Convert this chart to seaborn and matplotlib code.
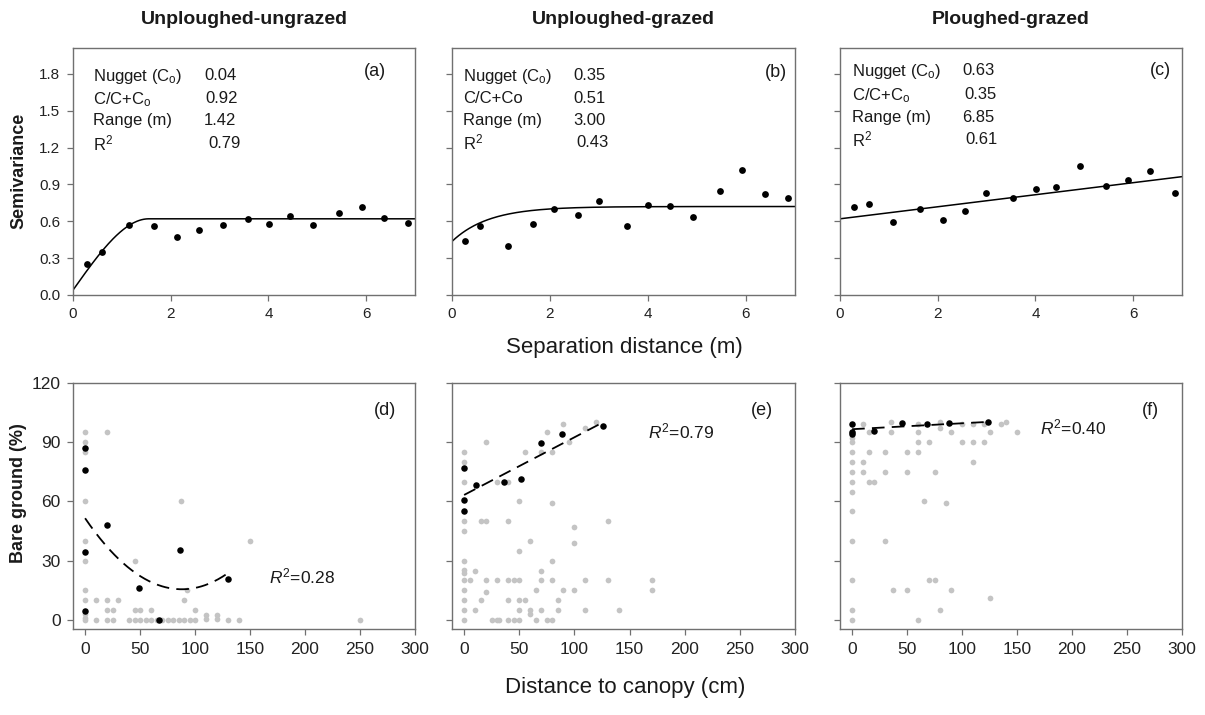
import numpy as np
import matplotlib
matplotlib.use("Agg")
import matplotlib.pyplot as plt
import seaborn as sns

# ---------------- data: semivariograms (top row) ----------------
lag_a = [0.29, 0.60, 1.15, 1.66, 2.12, 2.58, 3.06, 3.58, 4.02, 4.44, 4.92, 5.45, 5.92, 6.36, 6.85]
semi_a = [0.25, 0.35, 0.57, 0.56, 0.47, 0.53, 0.57, 0.62, 0.58, 0.64, 0.57, 0.665, 0.72, 0.625, 0.585]
lag_b = [0.26, 0.57, 1.15, 1.65, 2.09, 2.58, 3.01, 3.58, 4.01, 4.44, 4.91, 5.46, 5.92, 6.38, 6.86]
semi_b = [0.44, 0.565, 0.40, 0.575, 0.70, 0.65, 0.765, 0.565, 0.73, 0.725, 0.635, 0.845, 1.02, 0.825, 0.79]
lag_c = [0.28, 0.60, 1.09, 1.64, 2.10, 2.56, 2.99, 3.55, 4.02, 4.43, 4.92, 5.44, 5.90, 6.34, 6.85]
semi_c = [0.715, 0.74, 0.595, 0.70, 0.61, 0.685, 0.83, 0.79, 0.865, 0.875, 1.05, 0.885, 0.935, 1.01, 0.83]

# fitted models
sph_a = {"nugget": 0.04, "sill": 0.62, "range": 1.55}        # spherical
exp_b = {"nugget": 0.436, "sill": 0.72, "a0": 0.75}          # exponential
lin_c = {"intercept": 0.62, "slope": 0.049}                  # linear

stat_labels_ac = ["Nugget (C$_\\mathregular{o}$)", "C/C+C$_\\mathregular{o}$", "Range (m)", "R$^\\mathregular{2}$"]
stat_labels_b = ["Nugget (C$_\\mathregular{o}$)", "C/C+Co", "Range (m)", "R$^\\mathregular{2}$"]
stat_values_a = ["0.04", "0.92", "1.42", "0.79"]
stat_values_b = ["0.35", "0.51", "3.00", "0.43"]
stat_values_c = ["0.63", "0.35", "6.85", "0.61"]

titles = ["Unploughed-ungrazed", "Unploughed-grazed", "Ploughed-grazed"]
top_tags = ["(a)", "(b)", "(c)"]
bot_tags = ["(d)", "(e)", "(f)"]
r2_bottom = ["0.28", "0.79", "0.40"]

# ---------------- data: bare ground vs distance (bottom row) ----------------
d_gray_x = [0]*11 + [10, 10, 20, 20, 20, 20, 25, 25, 30, 45, 45, 50, 60, 87, 90, 93, 100,
                     110, 110, 120, 120, 130, 140, 150, 250,
                     40, 45, 50, 55, 60, 65, 70, 75, 80, 85, 90, 95, 100]
d_gray_y = [95, 90, 85, 60, 40, 30, 15, 10, 3, 1, 0] + [10, 0, 95, 10, 5, 0, 5, 0, 10, 30, 5, 5, 5, 60, 10, 15, 5,
                                                      2.5, 0.5, 2.5, 0.5, 0, 0, 40, 0,
                                                      0, 0, 0, 0, 0, 0, 0, 0, 0, 0, 0, 0, 0]
d_black_x = [0, 0, 0, 0, 20, 49, 67, 86, 130]
d_black_y = [87.3, 75.8, 34.6, 4.6, 48.3, 16.2, 0, 35.3, 20.8]
d_fit = [0.00465, -0.818, 51.5]      # quadratic coefficients
d_fit_span = [0, 130]

e_gray_x = [90, 110, 120, 75, 20, 95, 0, 0, 55, 70, 80, 0, 30, 40, 50, 80, 0, 0, 15, 20, 40, 130,
            100, 100, 60, 50, 0, 80, 0, 0, 10, 70,
            0, 5, 20, 30, 40, 45, 50, 70, 80, 110, 130, 170,
            0, 20, 65, 90, 100, 170,
            0, 15, 40, 50, 55, 85,
            0, 10, 50, 60, 70, 85, 110, 140, 60,
            0, 25, 30, 32, 40, 45, 50, 65, 75, 80]
e_gray_y = [99, 97, 100, 95, 90, 90, 85, 80, 85, 85, 85, 70, 70, 70, 60, 59, 50, 45, 50, 50, 50, 50,
            47, 39, 40, 35, 30, 30, 25.5, 24, 25, 25,
            20, 20, 20, 20, 20, 20, 20, 20, 20, 20, 20, 20,
            15, 14, 15, 15, 15, 15,
            10, 10, 10, 10, 10, 10,
            5, 5, 5, 5, 5, 5, 5, 5, 3,
            0, 0, 0, 0, 0, 0, 0, 0, 0, 0]
e_black_x = [0, 0, 0, 11, 36, 52, 70, 89, 126]
e_black_y = [76.8, 60.8, 55.2, 68.1, 70.1, 71.4, 89.5, 94.2, 98.3]
e_fit = [0.292, 63.3]
e_fit_span = [0, 126]

f_gray_x = [0]*13 + [10, 15, 35, 35, 60, 60, 80, 80, 90, 100, 110, 120, 125, 135, 140, 150,
                     60, 70, 100, 110, 120, 15, 30, 50, 60, 10, 110, 10, 30, 50, 75, 15, 20,
                     65, 85, 30, 70, 75, 37, 50, 90, 125, 80, 60]
f_gray_y = [95, 92, 90, 85, 80, 75, 70, 65, 55, 40, 20, 5, 0] + [99, 95, 100, 95, 99, 95, 100, 97, 95, 99, 99, 99, 95, 99, 100, 95,
                                                              90, 90, 90, 90, 90, 85, 85, 85, 85, 80, 80, 75, 75, 75, 75, 70, 70,
                                                              60, 59, 40, 20, 20, 15, 15, 15, 11, 5, 0]
f_black_x = [0, 0, 0, 20, 45, 68, 88, 124]
f_black_y = [99.3, 95.4, 94.2, 95.9, 99.6, 99.1, 99.6, 100]
f_fit = [0.03, 96.6]
f_fit_span = [0, 124]

# ---------------- styling ----------------
sns.set_theme(style="white")
plt.rcParams["font.family"] = ["Liberation Sans", "DejaVu Sans"]
plt.rcParams["mathtext.fontset"] = "custom"
plt.rcParams["mathtext.rm"] = "Liberation Sans"
plt.rcParams["mathtext.it"] = "Liberation Sans:italic"

SPINE = "#707070"
TXT = "#1a1a1a"
GRAY = "#c4c4c4"

W, H = 1205, 715
fig = plt.figure(figsize=(W / 100, H / 100), dpi=100)


def px_axes(l, t, r, b):
    return fig.add_axes([l / W, 1 - b / H, (r - l) / W, (b - t) / H])


top_boxes = [(73, 48, 415, 295), (452, 48, 795, 295), (840, 48, 1182, 295)]
bot_boxes = [(73, 383, 415, 629), (452, 383, 795, 629), (840, 383, 1182, 629)]


def style(ax, labelsize):
    for s in ax.spines.values():
        s.set_visible(True)
        s.set_color(SPINE)
        s.set_linewidth(1.0)
    ax.tick_params(direction="out", length=4, width=0.9, color=SPINE,
                   labelsize=labelsize, labelcolor="#222222", pad=5,
                   left=True, bottom=True)
    ax.set_xlabel("")
    ax.set_ylabel("")


# ---- top row ----
lags = [lag_a, lag_b, lag_c]
semis = [semi_a, semi_b, semi_c]
labels = [stat_labels_ac, stat_labels_b, stat_labels_ac]
values = [stat_values_a, stat_values_b, stat_values_c]
lab_x = [0.058, 0.032, 0.035]
val_x = [[0.383, 0.386, 0.383, 0.395], [0.353, 0.353, 0.353, 0.364], [0.357, 0.363, 0.357, 0.368]]
row_y = [[0.895, 0.802, 0.713, 0.619], [0.895, 0.802, 0.713, 0.623], [0.915, 0.818, 0.725, 0.636]]
tag_pos = [(0.884, 0.904), (0.945, 0.90), (0.936, 0.908)]

for i, box in enumerate(top_boxes):
    ax = px_axes(*box)
    hx = np.linspace(0, 7, 300)
    if i == 0:
        p = sph_a
        r = np.minimum(hx / p["range"], 1.0)
        model = p["nugget"] + (p["sill"] - p["nugget"]) * (1.5 * r - 0.5 * r ** 3)
    elif i == 1:
        p = exp_b
        model = p["nugget"] + (p["sill"] - p["nugget"]) * (1 - np.exp(-hx / p["a0"]))
    else:
        p = lin_c
        model = p["intercept"] + p["slope"] * hx
    sns.lineplot(x=hx, y=model, ax=ax, color="black", linewidth=1.1,
                 estimator=None, sort=False, zorder=2)
    sns.scatterplot(x=lags[i], y=semis[i], ax=ax, color="black", s=24,
                    linewidth=0, zorder=3)
    ax.set_xlim(0, 7)
    ax.set_ylim(0, 2.01)
    ax.set_xticks([0, 2, 4, 6])
    ax.set_yticks([0.0, 0.3, 0.6, 0.9, 1.2, 1.5, 1.8])
    style(ax, 11)
    if i == 0:
        ax.set_yticklabels(["0.0", "0.3", "0.6", "0.9", "1.2", "1.5", "1.8"])
    else:
        ax.set_yticklabels([])
    for k in range(4):
        ax.text(lab_x[i], row_y[i][k], labels[i][k], transform=ax.transAxes,
                fontsize=12, color=TXT, ha="left", va="center_baseline")
        ax.text(val_x[i][k], row_y[i][k], values[i][k], transform=ax.transAxes,
                fontsize=12, color=TXT, ha="left", va="center_baseline")
    ax.text(tag_pos[i][0], tag_pos[i][1], top_tags[i], transform=ax.transAxes,
            fontsize=13, color=TXT, ha="center", va="center")
    cx = (box[0] + box[2]) / 2
    fig.text(cx / W, 1 - 19 / H, titles[i], fontsize=14, fontweight="bold",
             color=TXT, ha="center", va="center")

# ---- bottom row ----
grays = [(d_gray_x, d_gray_y), (e_gray_x, e_gray_y), (f_gray_x, f_gray_y)]
blacks = [(d_black_x, d_black_y), (e_black_x, e_black_y), (f_black_x, f_black_y)]
fits = [(d_fit, d_fit_span), (e_fit, e_fit_span), (f_fit, f_fit_span)]
r2_pos = [(167, 22), (167, 95.4), (171, 97.4)]
btag_pos = [(0.912, 0.89), (0.904, 0.89), (0.909, 0.89)]

for i, box in enumerate(bot_boxes):
    ax = px_axes(*box)
    gx, gy = grays[i]
    sns.scatterplot(x=gx, y=gy, ax=ax, color=GRAY, s=17, linewidth=0, zorder=1)
    coef, span = fits[i]
    fx = np.linspace(span[0], span[1], 200)
    sns.lineplot(x=fx, y=np.polyval(coef, fx), ax=ax, color="black",
                 linewidth=1.3, estimator=None, sort=False, zorder=2)
    ax.lines[-1].set_dashes((7, 4))
    bx, by = blacks[i]
    sns.scatterplot(x=bx, y=by, ax=ax, color="black", s=22, linewidth=0, zorder=3)
    ax.set_xlim(-11, 300)
    ax.set_ylim(-4.6, 120)
    ax.set_xticks([0, 50, 100, 150, 200, 250, 300])
    ax.set_yticks([0, 30, 60, 90, 120])
    style(ax, 12.5)
    if i != 0:
        ax.set_yticklabels([])
    ax.text(r2_pos[i][0], r2_pos[i][1],
            "$\\mathit{R}^\\mathregular{2}$=" + r2_bottom[i],
            fontsize=12.5, color=TXT, ha="left", va="center")
    ax.text(btag_pos[i][0], btag_pos[i][1], bot_tags[i], transform=ax.transAxes,
            fontsize=13, color=TXT, ha="center", va="center")

# ---- shared labels ----
fig.text(19 / W, 1 - 171 / H, "Semivariance", rotation=90, fontsize=13,
         fontweight="bold", color=TXT, ha="center", va="center")
fig.text(19 / W, 1 - 493 / H, "Bare ground (%)", rotation=90, fontsize=13,
         fontweight="bold", color=TXT, ha="center", va="center")
fig.text(624 / W, 1 - 348 / H, "Separation distance (m)", fontsize=16,
         color=TXT, ha="center", va="center")
fig.text(625 / W, 1 - 688 / H, "Distance to canopy (cm)", fontsize=16,
         color=TXT, ha="center", va="center")

fig.savefig("out.png", dpi=100, facecolor="white")
